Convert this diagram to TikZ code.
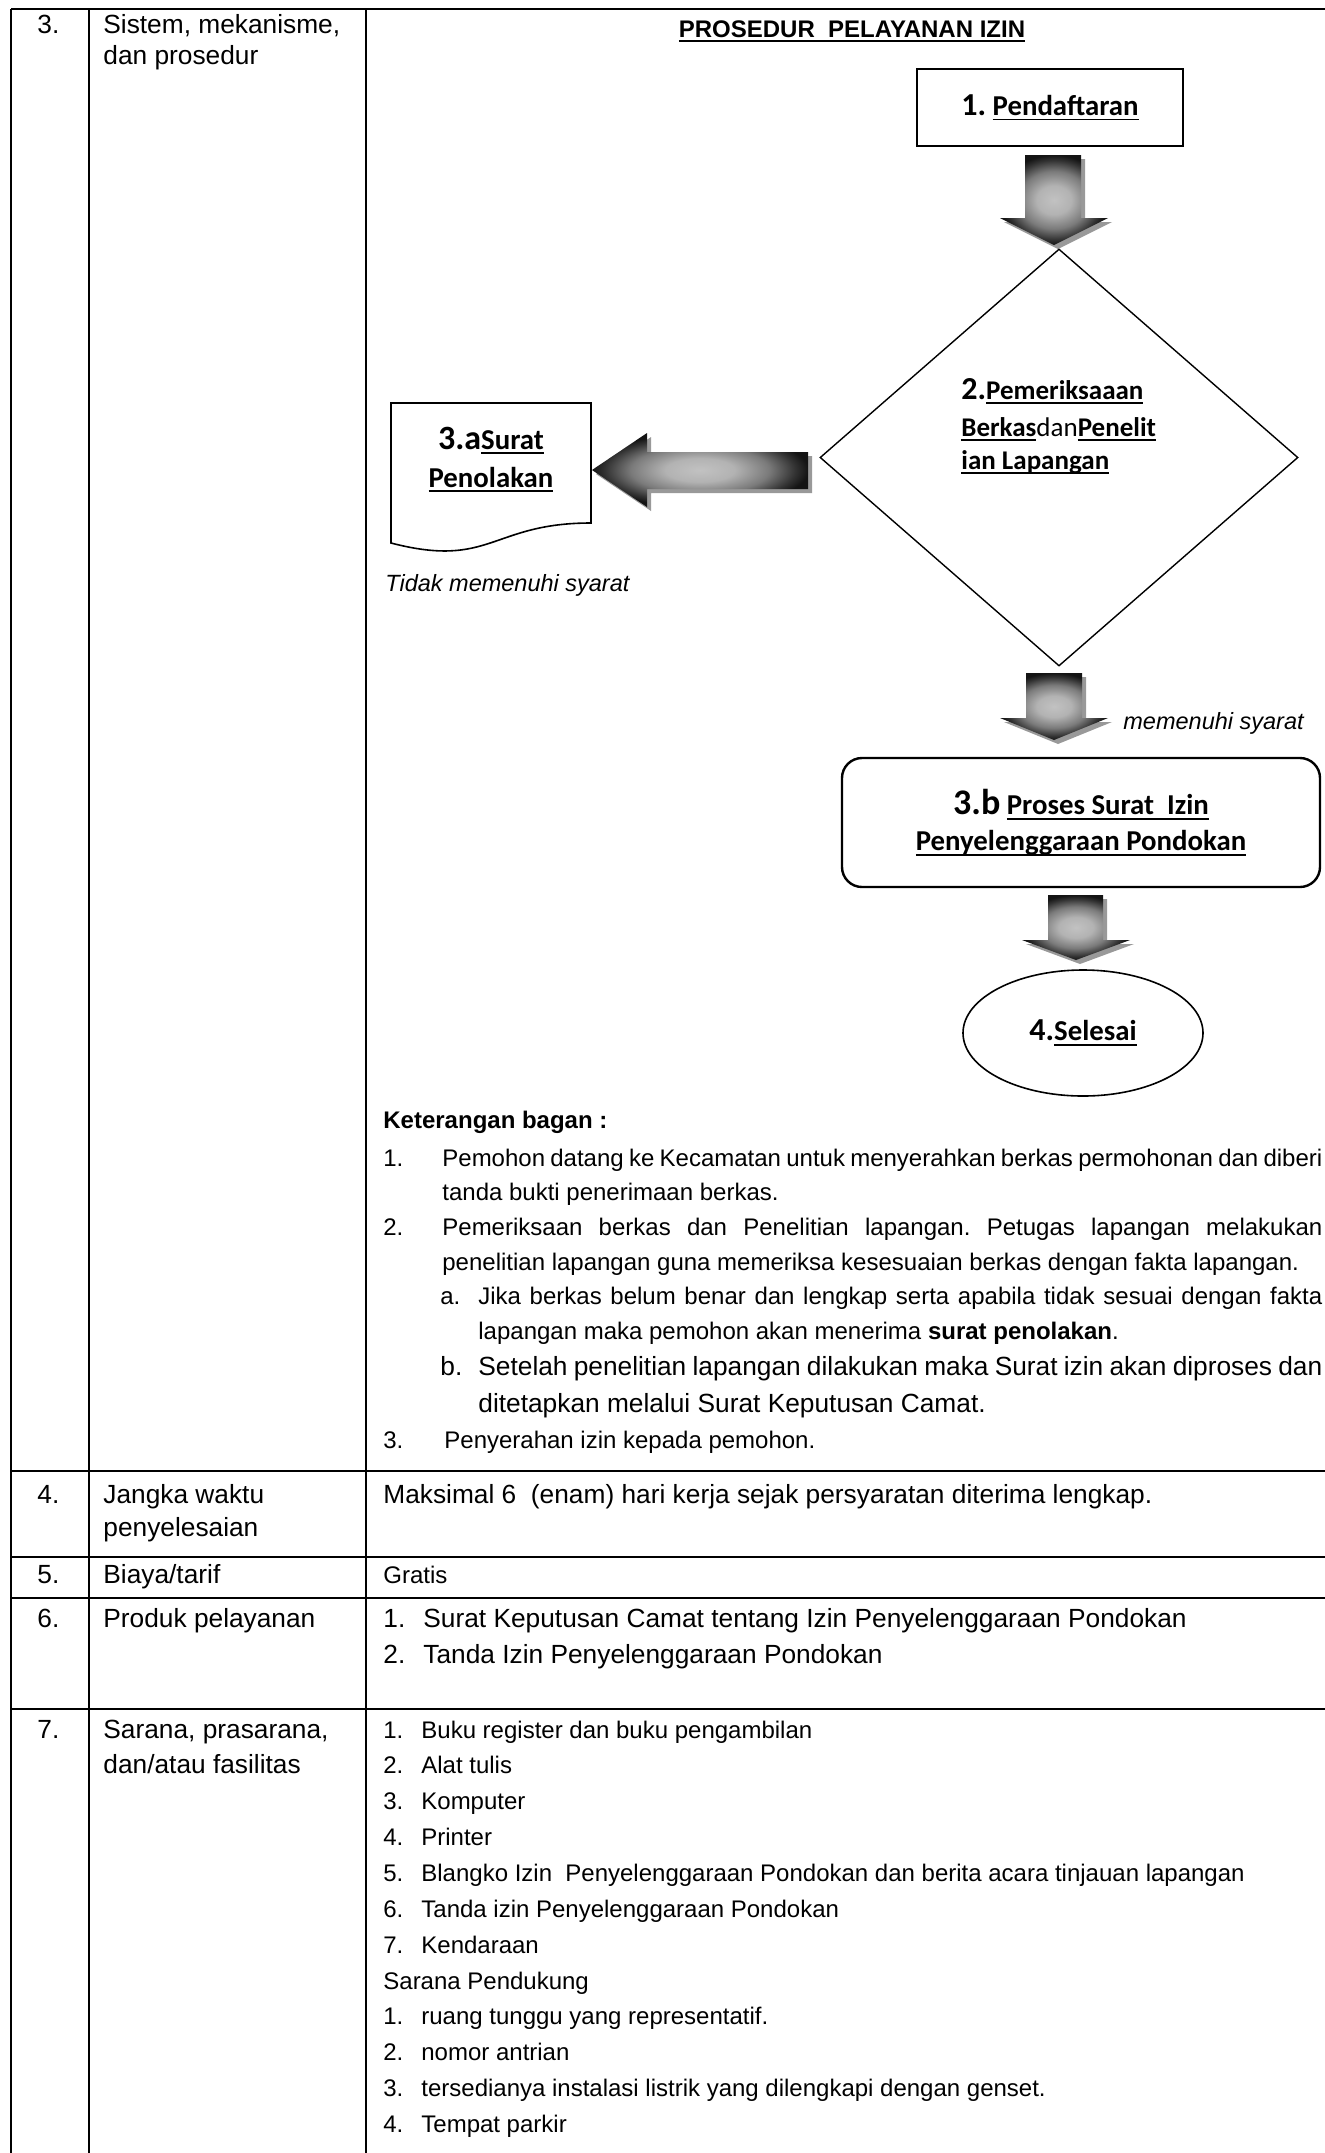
\documentclass[tikz,border=0pt]{standalone}
\usepackage{fontspec}
\setmainfont{Liberation Sans}
\newfontfamily\calfont{Carlito}
\usetikzlibrary{shapes.geometric}
\frenchspacing

\newcommand{\fsA}{\fontsize{12}{14}\selectfont}
\newcommand{\fsB}{\fontsize{13.15}{15}\selectfont}
\newcommand{\ulb}[1]{{\setbox0\hbox{#1}\rlap{\rule[-2.6pt]{\wd0}{0.9pt}}\box0}}

\pgfdeclareradialshading{arrowshade}{\pgfpoint{0bp}{0bp}}{color(0bp)=(black!24); color(8bp)=(black!30); color(16bp)=(black!52); color(22bp)=(black!80); color(25bp)=(black!92); color(50bp)=(black!92)}

\tikzset{
  tabline/.style={line width=1.1pt},
  cell/.style={anchor=base west, inner sep=0pt, font=\fsA},
  rownum/.style={anchor=base west, inner sep=0pt, font=\fsB},
  flowtext/.style={anchor=base, inner sep=0pt, font=\calfont\bfseries\fontsize{14.4}{18}\selectfont},
  flowleft/.style={anchor=base west, inner sep=0pt, font=\calfont\bfseries\fontsize{13.5}{16}\selectfont},
  flowbox/.style={draw, line width=1.2pt, inner sep=0pt},
  note/.style={anchor=base west, inner sep=0pt, font=\itshape\fontsize{11.75}{14}\selectfont},
  shadearrow/.style={shading=arrowshade, preaction={fill=black!40, transform canvas={xshift=2pt, yshift=-2pt}}}
}

\begin{document}
\begin{tikzpicture}[x=0.5pt, y=-0.5pt]
\useasboundingbox (0,0) rectangle (1325,2153);

% tabel
\draw[tabline] (11,9) -- (1325,9);
\foreach \y in {1471,1557,1598,1709}
	\draw[tabline] (11,\y) -- (1325,\y);
\foreach \x in {11,89,366}
	\draw[tabline] (\x,9) -- (\x,2153);

\node[rownum] (no3) at (37,33) {3.};
\node[rownum] (sistemA) at (103,33) {Sistem, mekanisme,};
\node[rownum] (sistemB) at (103,64) {dan prosedur};

% bagan alir
\node[anchor=base, inner sep=0pt, font=\bfseries\fontsize{12}{14}\selectfont] (judul) at (852,37) {\ulb{PROSEDUR\ \ PELAYANAN IZIN}};
\node[flowbox, line width=1.4pt, minimum width=133pt, minimum height=38.5pt, font=\calfont\bfseries\fontsize{14.4}{18}\selectfont] (daftar) at (1050,107.5) {{\fontsize{16}{19}\selectfont 1.} \ulb{Pendaftaran}};
\shade[shadearrow] (1025,155) -- (1081,155) -- (1081,218) -- (1108,218) -- (1054,245) -- (1000,218) -- (1025,218) -- cycle;

\node[draw, diamond, line width=0.7pt, minimum width=239pt, minimum height=208.5pt, inner sep=0pt] (periksa) at (1059,457.5) {};
\node[flowleft] (periksaA) at (961,399) {{\fontsize{16}{19}\selectfont 2.}\ulb{Pemeriksaaan}};
\node[flowleft] (periksaB) at (961,436) {\ulb{Berkas}{\mdseries dan}\ulb{Penelit}};
\node[flowleft] (periksaC) at (961,469) {\ulb{ian Lapangan}};

\shade[shadearrow] (808,452) -- (808,489) -- (647,489) -- (647,507) -- (592,470) -- (647,433) -- (647,452) -- cycle;
\draw[line width=0.8pt] (391,403) -- (591,403) -- (591,523) .. controls (491,523) and (491,569) .. (391,543) -- cycle;
\node[flowtext] (tolakA) at (491,449) {{\fontsize{17}{20}\selectfont 3.a}\ulb{Surat}};
\node[flowtext] (tolakB) at (491,487) {\ulb{Penolakan}};
\node[note] (tidak) at (385,591) {Tidak memenuhi syarat};

\shade[shadearrow] (1026,673) -- (1082,673) -- (1082,718) -- (1108,718) -- (1054,740) -- (1000,718) -- (1026,718) -- cycle;
\node[note] (memenuhi) at (1123,729) {memenuhi syarat};

\node[flowbox, rounded corners=10pt, minimum width=239pt, minimum height=64.5pt, align=center, font=\calfont\bfseries\fontsize{14.4}{18}\selectfont] (proses) at (1081,822.5) {{\fontsize{18}{18}\selectfont 3.b} \ulb{Proses Surat\ \ Izin}\\\ulb{Penyelenggaraan Pondokan}};

\shade[shadearrow] (1048,895) -- (1103,895) -- (1103,940) -- (1130,940) -- (1076,960) -- (1022,940) -- (1048,940) -- cycle;
\node[draw, ellipse, line width=0.8pt, minimum width=120pt, minimum height=63pt, inner sep=0pt, font=\calfont\bfseries\fontsize{14.4}{18}\selectfont] (selesai) at (1083,1033) {{\fontsize{16}{19}\selectfont 4.}\ulb{Selesai}};

% keterangan bagan
\node[cell, font=\fsA\bfseries] (ket) at (383,1128) {Keterangan bagan :};
\node[cell] (ketA) at (383,1166) {1.};
\node[cell] (ketAa) at (442,1166) {\makebox[440pt][s]{Pemohon datang ke Kecamatan untuk menyerahkan berkas permohonan dan diberi}};
\node[cell] (ketAb) at (442,1200) {tanda bukti penerimaan berkas.};
\node[cell] (ketB) at (383,1235) {2.};
\node[cell] (ketBa) at (442,1235) {\makebox[440pt][s]{Pemeriksaan berkas dan Penelitian lapangan. Petugas lapangan melakukan}};
\node[cell] (ketBb) at (442,1270) {penelitian lapangan guna memeriksa kesesuaian berkas dengan fakta lapangan.};
\node[cell] (ketC) at (440,1304) {a.};
\node[cell] (ketCa) at (478,1304) {\makebox[422pt][s]{Jika berkas belum benar dan lengkap serta apabila tidak sesuai dengan fakta}};
\node[cell] (ketCb) at (478,1339) {lapangan maka pemohon akan menerima \textbf{surat penolakan}.};
\node[rownum] (ketD) at (440,1375) {b.};
\node[rownum] (ketDa) at (478,1375) {\makebox[422pt][s]{Setelah penelitian lapangan dilakukan maka Surat izin akan diproses dan}};
\node[rownum] (ketDb) at (478,1412) {ditetapkan melalui Surat Keputusan Camat.};
\node[cell] (ketE) at (383,1448) {3.};
\node[cell] (ketEa) at (444,1448) {Penyerahan izin kepada pemohon.};

% baris 4 - 7
\node[rownum] (no4) at (37,1503) {4.};
\node[rownum] (waktuA) at (103,1503) {Jangka waktu};
\node[rownum] (waktuB) at (103,1536) {penyelesaian};
\node[rownum] (waktu) at (383,1503) {Maksimal 6\ \ (enam) hari kerja sejak persyaratan diterima lengkap.};

\node[rownum] (no5) at (37,1583) {5.};
\node[rownum] (biayaA) at (103,1583) {Biaya/tarif};
\node[cell] (biaya) at (383,1583) {Gratis};

\node[rownum] (no6) at (37,1627) {6.};
\node[rownum] (produkA) at (103,1627) {Produk pelayanan};
\foreach \t [count=\i] in {Surat Keputusan Camat tentang Izin Penyelenggaraan Pondokan, Tanda Izin Penyelenggaraan Pondokan} {
	\node[rownum] (produkno\i) at (383,1627+36*\i-36) {\i.};
	\node[rownum] (produk\i) at (423,1627+36*\i-36) {\t};
}

\node[rownum] (no7) at (37,1738) {7.};
\node[rownum] (saranaA) at (103,1738) {Sarana, prasarana,};
\node[rownum] (saranaB) at (103,1773) {dan/atau fasilitas};
\foreach \t [count=\i] in {Buku register dan buku pengambilan, Alat tulis, Komputer, Printer, Blangko Izin\ \ Penyelenggaraan Pondokan dan berita acara tinjauan lapangan, Tanda izin Penyelenggaraan Pondokan, Kendaraan} {
	\node[cell] (alatno\i) at (383,1738+35.9*\i-35.9) {\i.};
	\node[cell] (alat\i) at (421,1738+35.9*\i-35.9) {\t};
}
\node[cell] (dukung) at (383,1989) {Sarana Pendukung};
\foreach \t [count=\i] in {ruang tunggu yang representatif., nomor antrian, tersedianya instalasi listrik yang dilengkapi dengan genset., Tempat parkir} {
	\node[cell] (dukungno\i) at (383,1989+35.9*\i) {\i.};
	\node[cell] (dukung\i) at (421,1989+35.9*\i) {\t};
}
\end{tikzpicture}
\end{document}
